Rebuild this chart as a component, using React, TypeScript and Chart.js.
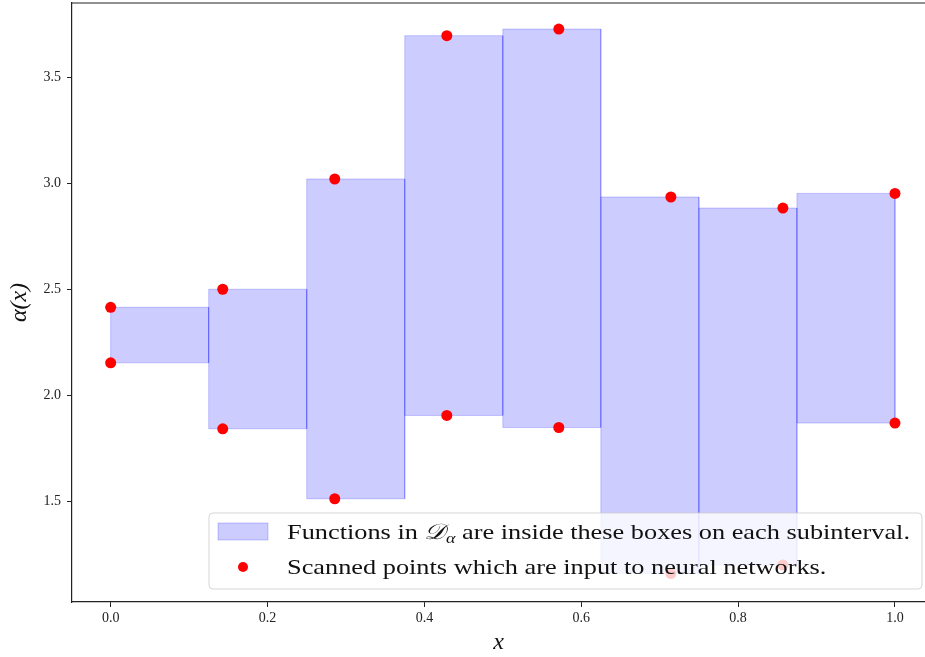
import React, { useEffect, useRef } from 'react';
import { Chart, registerables } from 'chart.js';
Chart.register(...registerables);

// Subinterval edges and box bounds (one box per subinterval)
const boxEdges = [0, 0.125, 0.25, 0.375, 0.5, 0.625, 0.75, 0.875, 1.0];
const boxHigh = [2.414, 2.499, 3.019, 3.695, 3.726, 2.934, 2.882, 2.951];
const boxLow = [2.152, 1.841, 1.511, 1.904, 1.847, 1.158, 1.198, 1.868];

// Scanned points
const scanX = [0, 0.1429, 0.2857, 0.4286, 0.5714, 0.7143, 0.8571, 1.0];
const scanHigh = [2.414, 2.499, 3.019, 3.695, 3.726, 2.934, 2.882, 2.951];
const scanLow = [2.152, 1.841, 1.511, 1.904, 1.847, 1.158, 1.198, 1.868];

// Axes
const xTicks = [0, 0.2, 0.4, 0.6, 0.8, 1.0];
const yTicks = [1.5, 2.0, 2.5, 3.0, 3.5];
const xMin = -0.0493;
const xMax = 1.0383;
const yMin = 1.024;
const yMax = 3.849;
const xTitle = 'x';
const yTitle = 'α(x)';

const legendBoxParts = ['Functions in ', '𝒟', 'α', ' are inside these boxes on each subinterval.'];
const legendPointLabel = 'Scanned points which are input to neural networks.';

const BOX_COLOR = 'rgba(0,0,255,0.2)';
const SERIF = "'Liberation Serif', 'DejaVu Serif', serif";
const AXIS_COLOR = '#222';

const framePlugin = {
  id: 'frameAndLegend',
  afterDatasetsDraw(chart: any) {
    const { ctx, chartArea } = chart;
    ctx.save();
    // top spine
    ctx.strokeStyle = AXIS_COLOR;
    ctx.lineWidth = 1.2;
    ctx.beginPath();
    ctx.moveTo(chartArea.left, chartArea.top);
    ctx.lineTo(chartArea.right, chartArea.top);
    ctx.stroke();

    // legend
    const right = chartArea.right - 3;
    const bottom = chartArea.bottom - 13;
    const w = 713;
    const h = 76;
    const x0 = right - w;
    const y0 = bottom - h;
    const r = 4;
    ctx.beginPath();
    ctx.moveTo(x0 + r, y0);
    ctx.lineTo(x0 + w - r, y0);
    ctx.quadraticCurveTo(x0 + w, y0, x0 + w, y0 + r);
    ctx.lineTo(x0 + w, y0 + h - r);
    ctx.quadraticCurveTo(x0 + w, y0 + h, x0 + w - r, y0 + h);
    ctx.lineTo(x0 + r, y0 + h);
    ctx.quadraticCurveTo(x0, y0 + h, x0, y0 + h - r);
    ctx.lineTo(x0, y0 + r);
    ctx.quadraticCurveTo(x0, y0, x0 + r, y0);
    ctx.closePath();
    ctx.fillStyle = 'rgba(255,255,255,0.8)';
    ctx.fill();
    ctx.strokeStyle = 'rgba(204,204,204,0.8)';
    ctx.lineWidth = 1;
    ctx.stroke();

    // patch
    ctx.fillStyle = BOX_COLOR;
    ctx.strokeStyle = BOX_COLOR;
    ctx.fillRect(x0 + 9, y0 + 10, 50, 17);
    ctx.strokeRect(x0 + 9, y0 + 10, 50, 17);

    // marker
    ctx.fillStyle = 'red';
    ctx.beginPath();
    ctx.arc(x0 + 34, y0 + 54, 5, 0, Math.PI * 2);
    ctx.fill();

    // texts (stretched horizontally to mimic the wider Computer Modern face)
    const fNormal = `22px ${SERIF}`;
    const fScript = `italic 22px ${SERIF}`;
    const fSub = `italic 15px ${SERIF}`;
    const fonts = [fNormal, fScript, fSub, fNormal];
    const dys = [0, 0, 4, 0];
    let total = 0;
    legendBoxParts.forEach((t, i) => {
      ctx.font = fonts[i];
      total += ctx.measureText(t).width;
    });
    const sx = 623 / total;
    const tx0 = x0 + 78;
    const base1 = y0 + 26;
    const base2 = y0 + 61;
    ctx.fillStyle = '#111';
    ctx.textBaseline = 'alphabetic';
    ctx.textAlign = 'left';
    ctx.save();
    ctx.translate(tx0, 0);
    ctx.scale(sx, 1);
    let tx = 0;
    legendBoxParts.forEach((t, i) => {
      ctx.font = fonts[i];
      ctx.fillText(t, tx, base1 + dys[i]);
      tx += ctx.measureText(t).width;
    });
    ctx.font = fNormal;
    ctx.fillText(legendPointLabel, 0, base2);
    ctx.restore();
    ctx.restore();
  },
};

export default function App() {
  const ref = useRef<HTMLCanvasElement | null>(null);
  useEffect(() => {
    document.body.style.margin = '0';
    const boxDatasets = boxHigh.map((hi, i) => {
      const lo = boxLow[i];
      const a = boxEdges[i];
      const b = boxEdges[i + 1];
      return {
        type: 'line' as const,
        data: [
          { x: a, y: lo },
          { x: a, y: hi },
          { x: b, y: hi },
          { x: b, y: lo },
          { x: a, y: lo },
        ],
        showLine: true,
        fill: 'shape' as any,
        backgroundColor: BOX_COLOR,
        borderColor: BOX_COLOR,
        borderWidth: 1,
        pointRadius: 0,
        tension: 0,
        order: 2,
      };
    });
    const pts = [
      ...scanX.map((x, i) => ({ x, y: scanHigh[i] })),
      ...scanX.map((x, i) => ({ x, y: scanLow[i] })),
    ];
    const chart = new Chart(ref.current as HTMLCanvasElement, {
      type: 'scatter',
      data: {
        datasets: [
          ...boxDatasets,
          {
            type: 'scatter' as const,
            data: pts,
            backgroundColor: 'red',
            borderWidth: 0,
            pointRadius: 5.5,
            order: 1,
          },
        ] as any,
      },
      options: {
        animation: false,
        responsive: false,
        devicePixelRatio: 1,
        layout: { autoPadding: false, padding: { top: 3, left: 0, right: 0, bottom: 0 } },
        plugins: { legend: { display: false }, tooltip: { enabled: false } },
        scales: {
          x: {
            type: 'linear',
            min: xMin,
            max: xMax,
            afterBuildTicks: (s: any) => {
              s.ticks = xTicks.map((v) => ({ value: v }));
            },
            afterFit: (s: any) => {
              s.height = 55;
              s.paddingLeft = 0;
              s.paddingRight = 0;
            },
            ticks: {
              callback: (v: any) => Number(v).toFixed(1),
              font: { family: SERIF, size: 14 },
              color: AXIS_COLOR,
              padding: 3,
              maxRotation: 0,
            },
            grid: {
              drawOnChartArea: false,
              drawTicks: true,
              tickLength: 5,
              tickColor: AXIS_COLOR,
              tickWidth: 1,
            },
            border: { display: true, color: AXIS_COLOR, width: 1.2 },
            title: {
              display: true,
              text: xTitle,
              font: { family: SERIF, size: 24, style: 'italic' },
              color: '#111',
              padding: { top: 0, bottom: 0 },
            },
          },
          y: {
            type: 'linear',
            min: yMin,
            max: yMax,
            afterBuildTicks: (s: any) => {
              s.ticks = yTicks.map((v) => ({ value: v }));
            },
            afterFit: (s: any) => {
              s.width = 72;
              s.paddingTop = 0;
              s.paddingBottom = 0;
            },
            ticks: {
              callback: (v: any) => Number(v).toFixed(1),
              font: { family: SERIF, size: 14 },
              color: AXIS_COLOR,
              padding: 6,
            },
            grid: {
              drawOnChartArea: false,
              drawTicks: true,
              tickLength: 5,
              tickColor: AXIS_COLOR,
              tickWidth: 1,
            },
            border: { display: true, color: AXIS_COLOR, width: 1.2 },
            title: {
              display: true,
              text: yTitle,
              font: { family: SERIF, size: 24, style: 'italic' },
              color: '#111',
              padding: { top: 5, bottom: 0 },
            },
          },
        },
      },
      plugins: [framePlugin],
    });
    return () => chart.destroy();
  }, []);
  return (
    <div style={{ width: 925, height: 657 }}>
      <canvas ref={ref} width={925} height={657} style={{ display: 'block' }} />
    </div>
  );
}
